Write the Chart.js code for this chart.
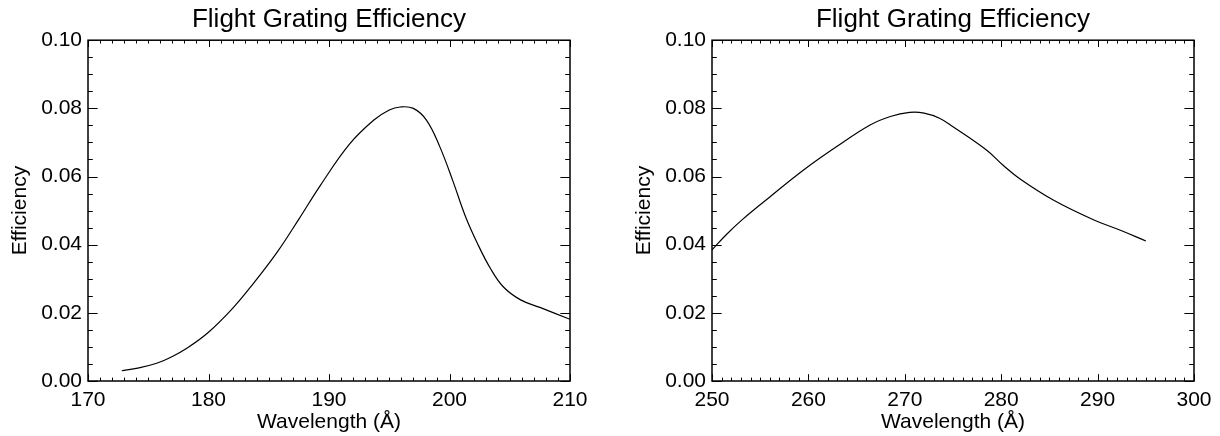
<!DOCTYPE html>
<html>
<head>
<meta charset="utf-8">
<script src="https://cdn.jsdelivr.net/npm/chart.js@4/dist/chart.umd.min.js"></script>
<style>
  html, body { margin: 0; padding: 0; background: #fff; }
  #wrap { position: relative; width: 1220px; height: 436px; }
  .panel { position: absolute; top: 0; width: 610px; height: 436px; }
  #p1 { left: 0; }
  #p2 { left: 610px; }
</style>
</head>
<body>
<div id="wrap">
  <div class="panel" id="p1"><canvas id="c1"></canvas></div>
  <div class="panel" id="p2"><canvas id="c2"></canvas></div>
</div>
<script>
// left panel (170-210 A)
const waveA = [172.8, 174, 175.7, 177, 178.2, 180, 182, 183.7, 185.7, 187.5, 189.3, 191.7, 193.7, 195.0, 195.9, 197.0, 198.1, 199.2, 200.3, 201.3, 202.3, 203.4, 204.5, 205.9, 207.5, 210];
const effA  = [0.0030, 0.0037, 0.0052, 0.0072, 0.0096, 0.0143, 0.0213, 0.0285, 0.0378, 0.0475, 0.0575, 0.0695, 0.0765, 0.0795, 0.0804, 0.0800, 0.0765, 0.0687, 0.0585, 0.0485, 0.0405, 0.0330, 0.0275, 0.0238, 0.0216, 0.0181];

// right panel (250-300 A)
const waveB = [250, 251.5, 253.2, 256, 259.5, 262.9, 266.4, 268.5, 270.5, 272, 273.6, 275, 278.5, 280.2, 282, 285.4, 289.5, 292.3, 295];
const effB  = [0.0385, 0.0430, 0.0475, 0.0540, 0.0619, 0.0687, 0.0751, 0.0776, 0.0788, 0.0786, 0.0771, 0.0746, 0.0677, 0.0633, 0.0592, 0.0531, 0.0474, 0.0443, 0.0411];

const xTicksA = [170, 180, 190, 200, 210];
const xTicksB = [250, 260, 270, 280, 290, 300];
const yTicks = [0, 0.02, 0.04, 0.06, 0.08, 0.10];

const titleText = 'Flight Grating Efficiency';
const xTitle = 'Wavelength (\u00C5)';
const yTitle = 'Efficiency';

const FONT = "'Liberation Sans', Arial, Helvetica, sans-serif";
Chart.defaults.color = '#000';
Chart.defaults.font.family = FONT;

// IDL style box with inward major/minor ticks on every side
const boxTicks = {
  id: 'boxTicks',
  afterDatasetsDraw(chart) {
    const o = chart.options.plugins.boxTicks;
    const {ctx, chartArea: a, scales: {x, y}} = chart;
    const xLen = 0.02 * a.height, yLen = 0.02 * a.width;
    ctx.save();
    ctx.strokeStyle = '#000';
    ctx.lineWidth = 1;
    ctx.beginPath();
    const nx = Math.round((x.max - x.min) / o.xMinor);
    for (let i = 0; i <= nx; i++) {
      const px = Math.round(x.getPixelForValue(x.min + i * o.xMinor)) + 0.5;
      const len = i % o.xPer === 0 ? xLen : xLen / 2;
      ctx.moveTo(px, a.bottom); ctx.lineTo(px, a.bottom - len);
      ctx.moveTo(px, a.top); ctx.lineTo(px, a.top + len);
    }
    const ny = Math.round((y.max - y.min) / o.yMinor);
    for (let i = 0; i <= ny; i++) {
      const py = Math.round(y.getPixelForValue(y.min + i * o.yMinor)) + 0.5;
      const len = i % o.yPer === 0 ? yLen : yLen / 2;
      ctx.moveTo(a.left, py); ctx.lineTo(a.left + len, py);
      ctx.moveTo(a.right, py); ctx.lineTo(a.right - len, py);
    }
    ctx.stroke();
    ctx.lineWidth = 1.5;
    ctx.strokeRect(a.left, a.top, a.width, a.height);
    ctx.restore();
  }
};

function makeChart(id, waves, effs, xTicks, padLeft, padRight) {
  const pts = waves.map((w, i) => ({x: w, y: effs[i]}));
  return new Chart(document.getElementById(id), {
    type: 'line',
    data: {
      datasets: [{
        data: pts,
        borderColor: '#000',
        borderWidth: 1.2,
        pointRadius: 0,
        fill: false,
        tension: 0.4
      }]
    },
    options: {
      responsive: true,
      maintainAspectRatio: false,
      animation: false,
      layout: {padding: {left: padLeft, right: padRight, top: 0, bottom: 0}},
      plugins: {
        legend: {display: false},
        tooltip: {enabled: false},
        title: {
          display: true,
          text: titleText,
          fullSize: false,
          font: {size: 26, weight: 'normal', family: FONT},
          padding: {top: 4, bottom: 5}
        },
        boxTicks: {xMinor: 1, xPer: 10, yMinor: 0.005, yPer: 4}
      },
      scales: {
        x: {
          type: 'linear',
          min: xTicks[0],
          max: xTicks[xTicks.length - 1],
          afterBuildTicks: s => { s.ticks = xTicks.map(v => ({value: v})); },
          afterFit: s => { s.height = 55; },
          grid: {display: false, drawTicks: false},
          border: {display: false},
          ticks: {font: {size: 21}, padding: 7, maxRotation: 0},
          title: {display: true, text: xTitle, font: {size: 21}, padding: {top: 0, bottom: 1}}
        },
        y: {
          type: 'linear',
          min: yTicks[0],
          max: yTicks[yTicks.length - 1],
          afterBuildTicks: s => { s.ticks = yTicks.map(v => ({value: v})); },
          afterFit: s => { s.width = 88; },
          grid: {display: false, drawTicks: false},
          border: {display: false},
          ticks: {font: {size: 21}, padding: 6, callback: v => v.toFixed(2)},
          title: {display: true, text: yTitle, font: {size: 21}, padding: {top: 8, bottom: 0}}
        }
      }
    },
    plugins: [boxTicks]
  });
}

makeChart('c1', waveA, effA, xTicksA, 0, 40);
makeChart('c2', waveB, effB, xTicksB, 14, 26);
</script>
</body>
</html>
